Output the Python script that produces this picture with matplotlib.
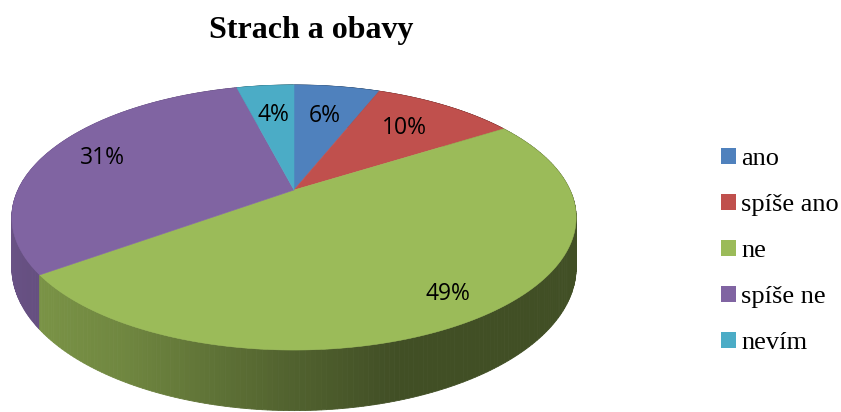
import numpy as np
import matplotlib
matplotlib.use("Agg")
import matplotlib.pyplot as plt
from matplotlib.patches import Polygon, Patch
from matplotlib.colors import to_rgb

# ---- data ----
categories = ["ano", "spíše ano", "ne", "spíše ne", "nevím"]
values = [6, 10, 49, 31, 4]
labels = ["6%", "10%", "49%", "31%", "4%"]
colors = ["#4F81BD", "#C0504D", "#9BBB59", "#8064A2", "#4BACC6"]
title = "Strach a obavy"

# ---- layout / style ----
label_radius = [0.68, 0.70, 0.85, 0.78, 0.68]
CX, CY = 294.0, 190.0      # pie centre on screen (px)
A = 276.0                  # horizontal radius scale
AY = 87.4                  # vertical radius scale
C = -0.2075                # perspective factor
D0 = 48.0                  # side depth (px) at mid-depth

W, H = 841, 412
fig = plt.figure(figsize=(W / 100, H / 100), dpi=100)
ax = fig.add_axes([0, 0, 1, 1])
ax.set_xlim(0, W)
ax.set_ylim(H, 0)
ax.axis("off")


def proj(u, t):
    den = 1 + C * t
    return CX + A * u / den, (AY * t + CY) / den


def shade(u):
    return np.interp(u, [-1, -0.5, 0, 0.3, 1], [0.83, 0.72, 0.52, 0.42, 0.42])


total = float(sum(values))
bounds = np.concatenate([[0], np.cumsum(values)]) / total * 2 * np.pi

# side walls (painter's order, back first)
quads = []
for i in range(len(values)):
    phis = np.linspace(bounds[i], bounds[i + 1], 200)
    u = np.sin(phis)
    t = -np.cos(phis)
    xs, ys = proj(u, t)
    dep = D0 / (1 + C * t)
    for k in range(len(phis) - 1):
        um = 0.5 * (u[k] + u[k + 1])
        tm = 0.5 * (t[k] + t[k + 1])
        pts = [(xs[k], ys[k]), (xs[k + 1], ys[k + 1]),
               (xs[k + 1], ys[k + 1] + dep[k + 1]), (xs[k], ys[k] + dep[k])]
        col = np.array(to_rgb(colors[i])) * shade(um)
        quads.append((tm, pts, col))
quads.sort(key=lambda q: q[0])
for tm, pts, col in quads:
    ax.add_patch(Polygon(pts, closed=True, facecolor=col, edgecolor=col, lw=0.6))

# top faces
for i in range(len(values)):
    phis = np.linspace(bounds[i], bounds[i + 1], 300)
    xs, ys = proj(np.sin(phis), -np.cos(phis))
    pts = [(CX, CY)] + list(zip(xs, ys))
    ax.add_patch(Polygon(pts, closed=True, facecolor=colors[i], edgecolor=colors[i], lw=0.4))

# data labels
for i in range(len(values)):
    mid = 0.5 * (bounds[i] + bounds[i + 1])
    r = label_radius[i]
    lx, ly = proj(r * np.sin(mid), -r * np.cos(mid))
    ax.text(lx, ly, labels[i], ha="center", va="center", fontsize=16.5,
            family="Open Sans", color="black")

# title
ax.text(311, 38, title, ha="center", va="baseline", fontsize=23,
        family="Liberation Serif", weight="bold")

# legend
handles = [Patch(facecolor=col, edgecolor="none") for col in colors]
fig.legend(handles, categories, loc="center left", bbox_to_anchor=(721 / W, 1 - 251 / H),
           frameon=False, prop={"family": "Liberation Serif", "size": 19},
           handlelength=0.55, handleheight=0.55, handletextpad=0.22,
           labelspacing=0.9, borderpad=0, borderaxespad=0)

fig.savefig("out.png", dpi=100)
